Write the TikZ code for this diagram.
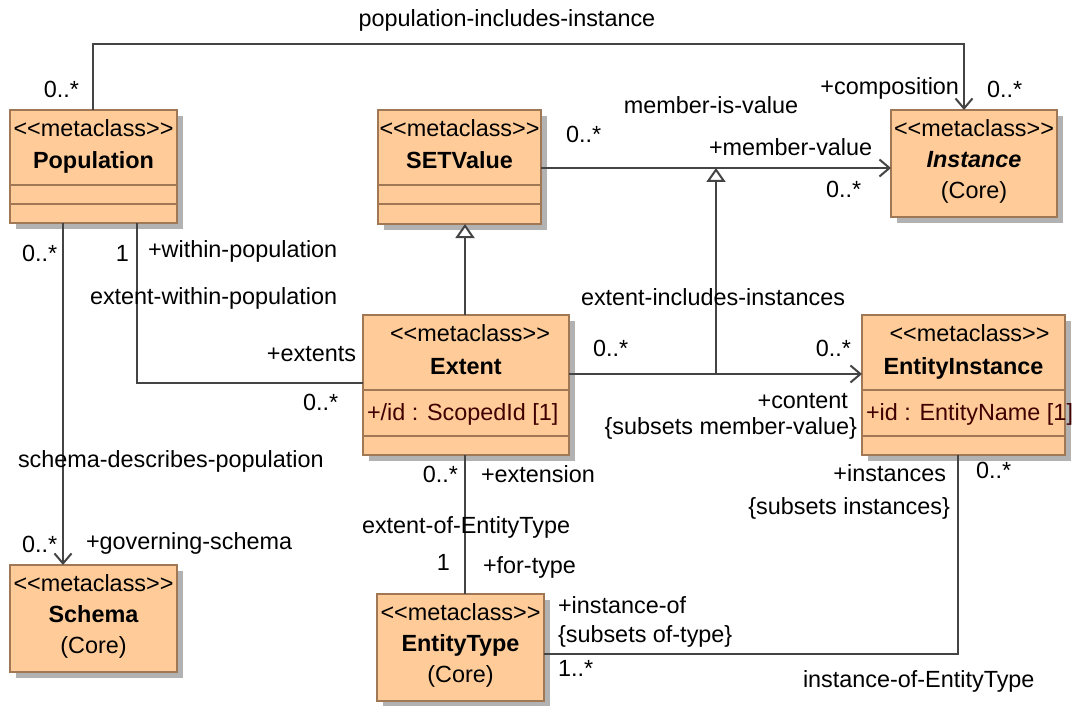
\documentclass[tikz,border=0pt]{standalone}
\usepackage{fontspec}
\setmainfont{Liberation Sans}[Ligatures=TeXOff]
\usetikzlibrary{arrows.meta,shadows}
\definecolor{boxfill}{RGB}{255,204,153}
\definecolor{boxdraw}{RGB}{160,120,85}
\definecolor{linec}{RGB}{68,68,68}
\definecolor{attrc}{RGB}{64,0,0}
\definecolor{shadowc}{RGB}{178,178,178}
\begin{document}
\begin{tikzpicture}[x=1pt,y=-1pt,
  every node/.style={inner sep=0pt, outer sep=0pt, font=\fontsize{23.4}{26}\selectfont},
  umlbox/.style={draw=boxdraw, fill=boxfill, line width=2pt, anchor=north west,
    drop shadow={shadow xshift=6pt, shadow yshift=-6pt, fill=shadowc, opacity=1}},
  sepline/.style={draw=boxdraw, line width=2pt},
  lbl/.style={text height=16.8pt, text depth=0pt},
  cname/.style={font=\fontsize{23.4}{26}\selectfont\bfseries},
  attr/.style={text=attrc, anchor=west, text height=16.8pt, text depth=0pt},
  assoc/.style={draw=linec, line width=2pt},
  nav/.style={assoc, -{Straight Barb[length=10pt,width=17pt,line width=2pt]}},
  gen/.style={assoc, -{Triangle[open,length=14pt,width=19pt,line width=2pt,fill=white]}}
]
\useasboundingbox (0,0) rectangle (1082,706);
\fill[white] (0,0) rectangle (1082,706);

% ---------- classes ----------
\node[umlbox, minimum width=167pt, minimum height=113pt] (pop) at (10,110) {};
\node[umlbox, minimum width=163pt, minimum height=114pt] (setv) at (378,110) {};
\node[umlbox, minimum width=166pt, minimum height=107pt] (inst) at (891,110) {};
\node[umlbox, minimum width=206pt, minimum height=140pt] (ext) at (363,315) {};
\node[umlbox, minimum width=203pt, minimum height=140pt] (ei) at (862,315) {};
\node[umlbox, minimum width=167pt, minimum height=107pt] (sch) at (10,565) {};
\node[umlbox, minimum width=167pt, minimum height=107pt] (et) at (377,594) {};

% compartments
\draw[sepline] (pop.west |- 0,185) -- (pop.east |- 0,185);
\draw[sepline] (pop.west |- 0,204) -- (pop.east |- 0,204);
\draw[sepline] (setv.west |- 0,185) -- (setv.east |- 0,185);
\draw[sepline] (setv.west |- 0,204) -- (setv.east |- 0,204);
\draw[sepline] (ext.west |- 0,390) -- (ext.east |- 0,390);
\draw[sepline] (ext.west |- 0,436) -- (ext.east |- 0,436);
\draw[sepline] (ei.west |- 0,390) -- (ei.east |- 0,390);
\draw[sepline] (ei.west |- 0,436) -- (ei.east |- 0,436);

% class texts
\node[lbl] (popst) at (pop.north |- 0,128) {<{}<metaclass>{}>};
\node[lbl, cname] (popnm) at (pop.north |- 0,160) {Population};

\node[lbl] (setvst) at (setv.north |- 0,128) {<{}<metaclass>{}>};
\node[lbl, cname] (setvnm) at (setv.north |- 0,160) {SETValue};

\node[lbl] (instst) at (inst.north |- 0,128) {<{}<metaclass>{}>};
\node[lbl, cname] (instnm) at (inst.north |- 0,159) {\itshape Instance};
\node[lbl] (instpk) at (inst.north |- 0,190) {(Core)};

\node[lbl] (extst) at ([xshift=4pt]ext.north |- 0,333) {<{}<metaclass>{}>};
\node[lbl, cname] (extnm) at (ext.north |- 0,366) {Extent};
\node[attr] (extat) at (367,412) {+/id : ScopedId [1]};

\node[lbl] (eist) at ([xshift=6pt]ei.north |- 0,333) {<{}<metaclass>{}>};
\node[lbl, cname] (einm) at (ei.north |- 0,366) {EntityInstance};
\node[attr] (eiat) at (866,412) {+id : EntityName [1]};

\node[lbl] (schst) at (sch.north |- 0,583) {<{}<metaclass>{}>};
\node[lbl, cname] (schnm) at (sch.north |- 0,614) {Schema};
\node[lbl] (schpk) at (sch.north |- 0,645) {(Core)};

\node[lbl] (etst) at (et.north |- 0,612) {<{}<metaclass>{}>};
\node[lbl, cname] (etnm) at (et.north |- 0,643) {EntityType};
\node[lbl] (etpk) at (et.north |- 0,674) {(Core)};

% ---------- connectors ----------
\coordinate (c1) at (93,44);
\coordinate (c2) at (964,44);
\draw[nav] (pop.north -| c1) -- (c1) -- (c2) -- (inst.north -| c2);

\coordinate (m2) at (716,168);
\coordinate (m1) at (716,374);
\draw[nav] (setv.east |- m2) -- (inst.west |- m2);
\draw[nav] (ext.east |- m1) -- (ei.west |- m1);
\draw[gen] (m1) -- (m2);

\coordinate (c3) at (63,400);
\draw[nav] (pop.south -| c3) -- (sch.north -| c3);

\coordinate (c4) at (137,383);
\draw[assoc] (pop.south -| c4) -- (c4) -- (ext.west |- c4);

\coordinate (c5) at (465,500);
\draw[gen] (ext.north -| c5) -- (setv.south -| c5);
\draw[assoc] (ext.south -| c5) -- (et.north -| c5);

\coordinate (c6) at (958,654);
\draw[assoc] (ei.south -| c6) -- (c6) -- (et.east |- c6);

% ---------- labels ----------
\node[lbl] (l1) at (507,18) {population-includes-instance};
\node[lbl, anchor=east] (l2) at (79,89) {0..*};
\node[lbl, anchor=east] (l3) at (959,86) {+composition};
\node[lbl, anchor=west] (l4) at (987,89) {0..*};
\node[lbl] (l5) at (711,105) {member-is-value};
\node[lbl, anchor=west] (l6) at (566,134) {0..*};
\node[lbl, anchor=west] (l7) at (709,147) {+member-value};
\node[lbl, anchor=west] (l8) at (826,189) {0..*};
\node[lbl, anchor=west] (l9) at (22,253) {0..*};
\node[lbl, anchor=east] (l10) at (129,253) {1};
\node[lbl, anchor=west] (l11) at (148,249) {+within-population};
\node[lbl, anchor=west] (l12) at (90,296) {extent-within-population};
\node[lbl, anchor=east] (l13) at (356,353) {+extents};
\node[lbl, anchor=west] (l14) at (303,402) {0..*};
\node[lbl, anchor=west] (l15) at (581,297) {extent-includes-instances};
\node[lbl, anchor=west] (l16) at (593,348) {0..*};
\node[lbl, anchor=east] (l17) at (851,348) {0..*};
\node[lbl, anchor=east] (l18) at (848,400) {+content};
\node[lbl, anchor=east] (l19) at (857,426) {\{subsets member-value\}};
\node[lbl, anchor=west] (l20) at (18,459) {schema-describes-population};
\node[lbl, anchor=east] (l21) at (458,474) {0..*};
\node[lbl, anchor=west] (l22) at (481,474) {+extension};
\node[lbl, anchor=east] (l23) at (946,473) {+instances};
\node[lbl, anchor=west] (l24) at (976,470) {0..*};
\node[lbl, anchor=east] (l25) at (950,506) {\{subsets instances\}};
\node[lbl, anchor=west] (l26) at (362,525) {extent-of-EntityType};
\node[lbl, anchor=west] (l27) at (22,544) {0..*};
\node[lbl, anchor=west] (l28) at (86,541) {+governing-schema};
\node[lbl, anchor=east] (l29) at (450,562) {1};
\node[lbl, anchor=west] (l30) at (483,565) {+for-type};
\node[lbl, anchor=west] (l31) at (558,605) {+instance-of};
\node[lbl, anchor=west] (l32) at (558,634) {\{subsets of-type\}};
\node[lbl, anchor=west] (l33) at (558,668) {1..*};
\node[lbl, anchor=west] (l34) at (803,679) {instance-of-EntityType};
\end{tikzpicture}
\end{document}
